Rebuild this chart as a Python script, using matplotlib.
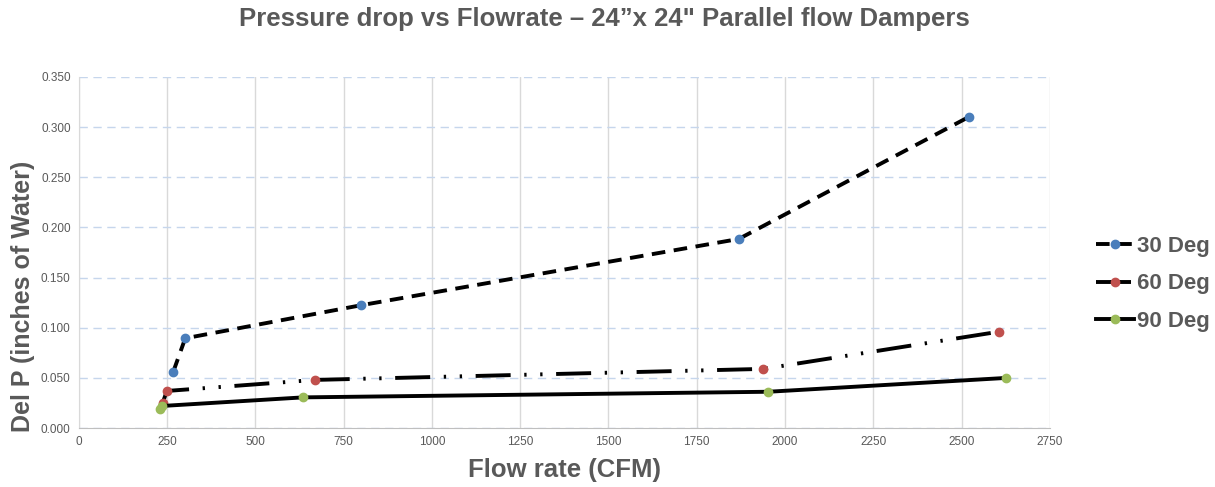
import matplotlib.pyplot as plt

plt.rcParams["font.family"] = ["Liberation Sans", "DejaVu Sans"]

# flow rate (CFM) and pressure drop (inches of water) per damper angle
flow_30 = [267, 301, 800, 1869, 2520]
dp_30 = [0.056, 0.0895, 0.1225, 0.1885, 0.310]

flow_60 = [237, 249, 668, 1939, 2605]
dp_60 = [0.025, 0.037, 0.048, 0.059, 0.096]

flow_90 = [230, 234, 635, 1953, 2627]
dp_90 = [0.0195, 0.022, 0.0306, 0.0362, 0.0500]

labels = ["30 Deg", "60 Deg", "90 Deg"]
x_ticks = list(range(0, 2751, 250))
y_ticks = [i * 0.05 for i in range(8)]

gray = "#595959"

fig = plt.figure(figsize=(12.15, 4.87), dpi=100)
ax = fig.add_axes([0.065, 0.121, 0.799, 0.721])

ax.plot(flow_30, dp_30, color="black", lw=2.8, linestyle=(0, (3.5, 2.2)),
        marker="o", ms=6, mfc="#4a7ebb", mec="#4a7ebb", label=labels[0])
ax.plot(flow_60, dp_60, color="black", lw=2.8,
        linestyle=(0, (9, 3.5, 0.6, 3.5, 0.6, 3.5)),
        marker="o", ms=6, mfc="#c0504d", mec="#c0504d", label=labels[1])
ax.plot(flow_90, dp_90, color="black", lw=2.8, linestyle="-",
        marker="o", ms=6, mfc="#9bbb59", mec="#9bbb59", label=labels[2])

ax.set_xlim(0, 2750)
ax.set_ylim(0, 0.35)
ax.set_xticks(x_ticks)
ax.set_yticks(y_ticks)
ax.set_yticklabels([f"{v:.3f}" for v in y_ticks])
ax.tick_params(length=0, labelsize=8.5, labelcolor=gray, pad=6)

ax.grid(axis="x", color="#d9d9d9", lw=1, linestyle="-")
ax.grid(axis="y", color="#c6d6ec", lw=1, linestyle=(0, (6, 4)))
ax.set_axisbelow(True)
for side in ["top", "right"]:
    ax.spines[side].set_visible(False)
ax.spines["left"].set_color("#d9d9d9")
ax.spines["bottom"].set_color("#bfbfbf")

ax.set_xlabel("Flow rate (CFM)", fontsize=18.5, fontweight="bold", color=gray, labelpad=7)
ax.set_ylabel("Del P (inches of Water)", fontsize=18, fontweight="bold", color=gray)
ax.yaxis.set_label_coords(-0.045, 0.375)

fig.suptitle("Pressure drop vs Flowrate \u2013 24\u201dx 24\" Parallel flow Dampers",
             x=0.4975, y=0.985, fontsize=18.5, fontweight="bold", color=gray)

leg = fig.legend(loc="center left", bbox_to_anchor=(0.893, 0.417), frameon=False,
                 prop={"size": 16, "weight": "bold"}, handlelength=1.7,
                 handletextpad=0.15, labelspacing=0.75, borderpad=0)
for t in leg.get_texts():
    t.set_color(gray)

fig.savefig("out.png", dpi=100)
